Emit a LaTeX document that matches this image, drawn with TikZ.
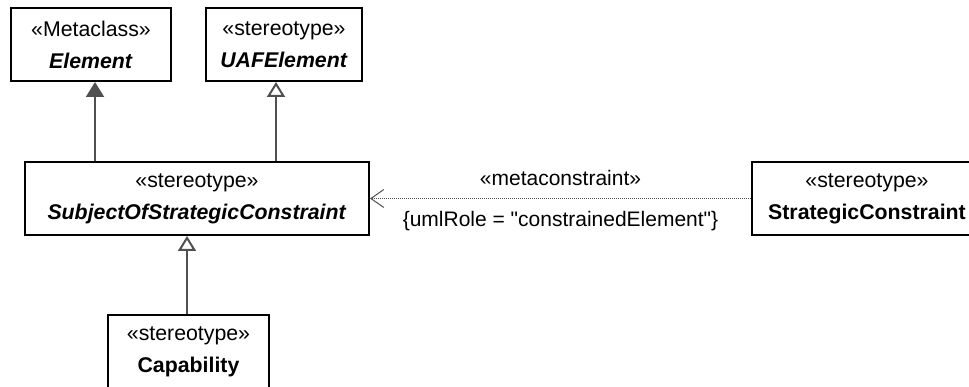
\documentclass[tikz,border=0pt]{standalone}
\usepackage{fontspec}
\setmainfont{Liberation Sans}[Ligatures=TeXOff]
\usepackage{xcolor}
\usetikzlibrary{arrows.meta, positioning}

\definecolor{linegray}{HTML}{505050}

\begin{document}
\begin{tikzpicture}[
    x=1pt, y=-1pt,
    classbox/.style={
        rectangle,
        draw=black,
        line width=2pt,
        align=center,
        inner sep=0pt,
        minimum height=73pt,
        font=\fontsize{21.3}{32}\selectfont
    },
    filledgen/.style={-{Triangle[length=15pt, width=18pt]}, draw=linegray, line width=2pt},
    hollowgen/.style={-{Triangle[open, length=15pt, width=18pt, fill=white]}, draw=linegray, line width=2pt},
    depend/.style={-{Straight Barb[length=13pt, width=18pt]}, draw=linegray, line width=1pt, dash pattern=on 1pt off 1pt},
    edgelabel/.style={font=\fontsize{21}{25}\selectfont, inner sep=0pt}
]
\useasboundingbox (0,0) rectangle (969,387);

\node[classbox, minimum width=160pt] (element) at (91,44.5) {
    «Metaclass»\\
    \textbf{\textit{Element}}
};

\node[classbox, minimum width=156pt] (uafelement) at (284,44.5) {
    «stereotype»\\
    \textbf{\textit{UAFElement}}
};

\node[classbox, minimum width=344pt] (subject) at (197,198.5) {
    «stereotype»\\
    \textbf{\textit{SubjectOfStrategicConstraint}}
};

\node[classbox, minimum width=161pt] (capability) at (188.5,351.5) {
    «stereotype»\\
    \textbf{Capability}
};

\node[classbox, minimum width=230pt] (strategic) at (867,198.5) {
    «stereotype»\\
    \textbf{StrategicConstraint}
};

\coordinate (elemx) at (95,0);
\coordinate (uafx) at (276,0);
\coordinate (capx) at (187,0);

\draw[filledgen] (subject.north -| elemx) -- (element.south -| elemx);
\draw[hollowgen] (subject.north -| uafx) -- (uafelement.south -| uafx);
\draw[hollowgen] (capability.north -| capx) -- (subject.south -| capx);

\draw[depend] (strategic.west) -- (subject.east)
    node[edgelabel, midway, above=12pt] {«metaconstraint»}
    node[edgelabel, midway, below=12pt] {\{umlRole = "constrainedElement"\}};

\end{tikzpicture}
\end{document}
